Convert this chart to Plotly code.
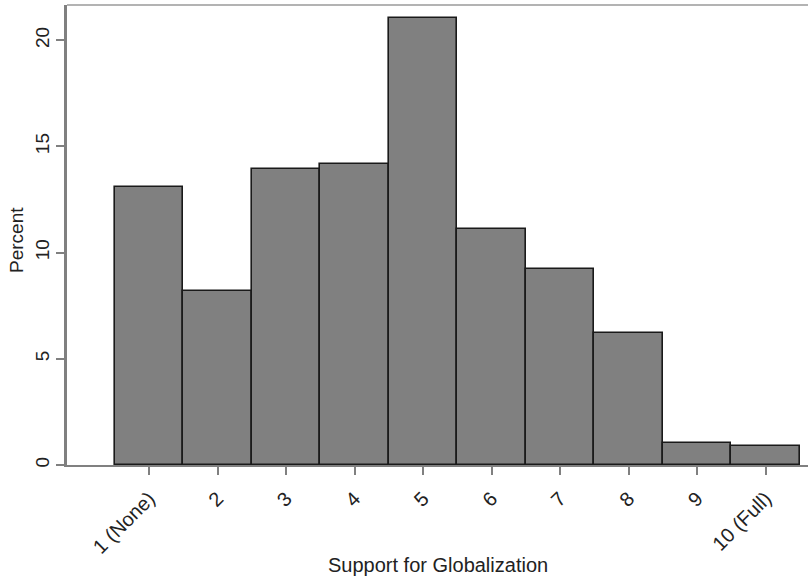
import plotly.graph_objects as go

categories = [1, 2, 3, 4, 5, 6, 7, 8, 9, 10]
tick_labels = ["1 (None)", "2", "3", "4", "5", "6", "7", "8", "9", "10 (Full)"]
percent = [13.1, 8.2, 13.95, 14.15, 21.05, 11.1, 9.25, 6.2, 1.05, 0.9]
y_ticks = [0, 5, 10, 15, 20]

FONT = "Liberation Sans, Arial, sans-serif"

fig = go.Figure()
fig.add_trace(go.Bar(
    x=categories, y=percent, width=1,
    marker=dict(color="#808080", line=dict(color="#1a1a1a", width=1.6)),
    showlegend=False,
))

fig.update_layout(
    width=808, height=577,
    margin=dict(l=67, r=0, t=5, b=112),
    paper_bgcolor="white", plot_bgcolor="white",
    bargap=0,
    font=dict(family=FONT, size=17, color="#222"),
    xaxis=dict(
        range=[-0.2, 10.62], tickvals=categories, ticktext=tick_labels,
        tickangle=-45, ticks="outside", ticklen=8, tickwidth=1.5, tickcolor="#808080",
        tickfont=dict(size=20), ticklabelstandoff=4,
        showline=True, linecolor="#808080", linewidth=2,
        showgrid=False, zeroline=False,
    ),
    yaxis=dict(
        range=[0, 21.66], tickvals=y_ticks, tickangle=-90,
        ticks="outside", ticklen=8, tickwidth=1.5, tickcolor="#808080",
        tickfont=dict(size=19),
        showline=True, linecolor="#808080", linewidth=2.5,
        showgrid=False, zeroline=False,
    ),
    shapes=[dict(type="line", xref="paper", yref="paper", x0=0, x1=1, y0=1, y1=1,
                 line=dict(color="#9a9a9a", width=1.5))],
    annotations=[
        dict(text="Percent", xref="paper", yref="paper", x=0, y=0.5,
             xanchor="center", yanchor="middle", xshift=-51, yshift=-5, textangle=-90,
             showarrow=False, font=dict(size=19)),
        dict(text="Support for Globalization", xref="paper", yref="paper", x=0.5, y=0,
             xanchor="center", yanchor="middle", yshift=-100,
             showarrow=False, font=dict(size=20)),
    ],
)

fig.write_html("out.html")
